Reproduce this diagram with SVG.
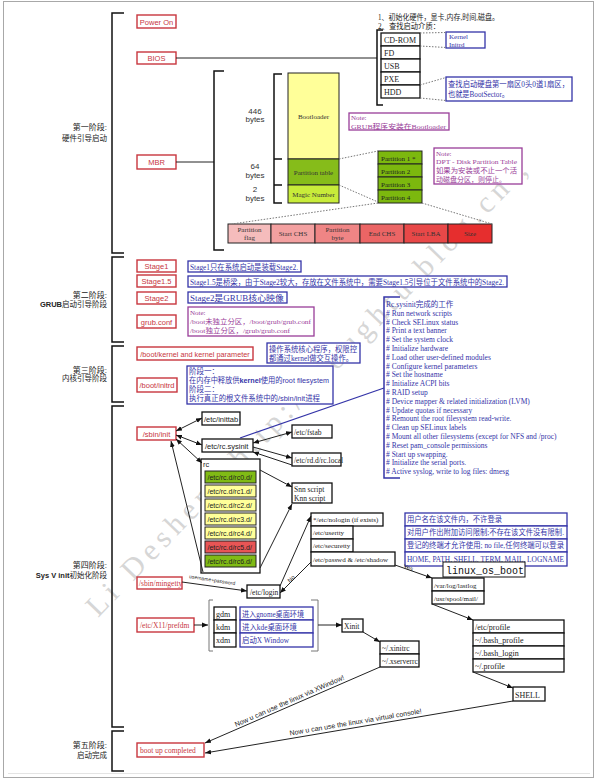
<svg xmlns="http://www.w3.org/2000/svg" width="597" height="781" viewBox="0 0 597 781">
<defs>
<marker id="ah" viewBox="0 0 10 10" refX="10" refY="5" markerWidth="6" markerHeight="6" orient="auto-start-reverse"><path d="M0,1 L10,5 L0,9 z" fill="#111"/></marker>
<style>
.frame{fill:none;stroke:#a8a8a8;stroke-width:1}
.br{fill:none;stroke:#111;stroke-width:1.5}
.rb{fill:#fff;stroke:#c8363e;stroke-width:1.4}
.rt{font-family:"Liberation Sans",Arial,sans-serif;font-size:7.5px;fill:#c8363e;text-anchor:middle}
.rts{font-family:"Liberation Serif","Noto Sans CJK SC",serif;font-size:7.5px;fill:#c8363e}
.bb{fill:#fff;stroke:#3434a8;stroke-width:1.3}
.bt{font-family:"Liberation Serif","Noto Sans CJK SC",serif;font-size:7.5px;fill:#3434a8}
.pb{fill:#fff;stroke:#993d99;stroke-width:1.3}
.pt{font-family:"Liberation Serif","Noto Sans CJK SC",serif;font-size:7px;fill:#993d99}
.kb{fill:#fff;stroke:#111;stroke-width:1.3}
.ks{font-family:"Liberation Serif","Noto Sans CJK SC",serif;font-size:7.5px;fill:#222}
.ka{font-family:"Liberation Sans",Arial,sans-serif;font-size:7.5px;fill:#222}
.lbl{font-family:"Liberation Serif","Noto Sans CJK SC",serif;font-size:7.5px;fill:#222;text-anchor:end}
.by{font-family:"Liberation Sans",Arial,sans-serif;font-size:8px;fill:#333;text-anchor:middle}
.cell{stroke:#222;stroke-width:1}
.ct{font-family:"Liberation Serif",serif;font-size:7px;fill:#333;text-anchor:middle}
.ln{fill:none;stroke:#222;stroke-width:1}
.dot{fill:none;stroke:#777;stroke-width:1;stroke-dasharray:1.5 1.5}
.wm{font-family:"Liberation Serif",serif;font-size:30px;fill:#d6d6d6}
.sm{font-family:"Liberation Sans",Arial,sans-serif;fill:#222}
</style>
</defs>
<rect class="frame" x="3.5" y="1.5" width="590" height="776"/>
<line x1="8" y1="773.5" x2="590" y2="773.5" stroke="#e4e4e4"/>

<g id="watermark">
<text class="wm" x="0" y="0" transform="translate(98,618) rotate(-46)" textLength="620" lengthAdjust="spacing">Li Desheng  http://Doughtu.blog.cn ,</text>
</g>

<g id="stages">
<path class="br" d="M124,13 H112 V253 H124 M124,257 H112 V342 H124 M124,346 H112 V402 H124 M124,406 H112 V727 H124 M124,731 H112 V771 H124"/>
<text class="lbl" x="107" y="130" style="font-size:8px">第一阶段:</text>
<text class="lbl" x="107" y="141">硬件引导启动</text>
<text class="lbl" x="107" y="298" style="font-size:8px">第二阶段:</text>
<text class="lbl" x="107" y="307"><tspan style="font-family:'Liberation Sans',sans-serif;font-weight:bold">GRUB</tspan>启动引导阶段</text>
<text class="lbl" x="107" y="373" style="font-size:8px">第三阶段:</text>
<text class="lbl" x="107" y="381">内核引导阶段</text>
<text class="lbl" x="107" y="568" style="font-size:8px">第四阶段:</text>
<text class="lbl" x="107" y="578"><tspan style="font-family:'Liberation Sans',sans-serif;font-weight:bold">Sys V init</tspan>初始化阶段</text>
<text class="lbl" x="107" y="748" style="font-size:8px">第五阶段:</text>
<text class="lbl" x="107" y="758">启动完成</text>
</g>

<g id="power-on"><rect class="rb" x="137" y="15" width="39" height="13"/><text class="rt" x="156.5" y="24.5">Power On</text></g>
<g id="bios"><rect class="rb" x="137" y="52" width="39" height="12"/><text class="rt" x="156.5" y="61">BIOS</text></g>
<g id="bios-notes">
<text class="ks" x="378" y="20" textLength="121" lengthAdjust="spacingAndGlyphs">1、初始化硬件，显卡,内存,时间,磁盘。</text>
<text class="ks" x="378" y="28.5" textLength="62" lengthAdjust="spacingAndGlyphs">2、查找启动介质：</text>
</g>
<g id="media">
<rect class="kb" x="381" y="33" width="39" height="13"/><text class="ks" x="384" y="42.5" style="font-size:8px">CD-ROM</text>
<rect class="kb" x="381" y="46" width="39" height="13"/><text class="ks" x="384" y="55.5" style="font-size:8px">FD</text>
<rect class="kb" x="381" y="59" width="39" height="13"/><text class="ks" x="384" y="68.5" style="font-size:8px">USB</text>
<rect class="kb" x="381" y="72" width="39" height="13"/><text class="ks" x="384" y="81.5" style="font-size:8px">PXE</text>
<rect class="kb" x="381" y="85" width="39" height="13"/><text class="ks" x="384" y="94.5" style="font-size:8px">HDD</text>
</g>
<g id="kernel-initrd"><rect class="bb" x="446" y="32" width="39" height="16"/><text class="bt" x="449" y="39" style="font-size:7px">Kernel</text><text class="bt" x="449" y="46.5" style="font-size:7px">Initrd</text></g>
<g id="hdd-note"><rect class="bb" x="446" y="77" width="126" height="24"/><text class="bt" x="448" y="87" textLength="121" lengthAdjust="spacingAndGlyphs">查找启动硬盘第一扇区0头0道1扇区，</text><text class="bt" x="448" y="96.5" textLength="61" lengthAdjust="spacingAndGlyphs">也就是BootSector。</text></g>

<g id="mbr"><rect class="rb" x="137" y="155" width="39" height="14"/><text class="rt" x="156.5" y="165">MBR</text></g>
<g id="mbr-layout">
<text class="by" x="255" y="113.5">446</text><text class="by" x="255" y="122">bytes</text>
<text class="by" x="255" y="169">64</text><text class="by" x="255" y="177.5">bytes</text>
<text class="by" x="255" y="192">2</text><text class="by" x="255" y="200.5">bytes</text>
<rect x="288" y="73" width="51" height="86" fill="#ffff99" class="cell"/>
<text class="ct" x="313.5" y="118.5">Bootloader</text>
<rect x="288" y="159" width="51" height="26" fill="#86bc1a" class="cell"/>
<text class="ct" x="313.5" y="174.5">Partition table</text>
<rect x="288" y="185" width="51" height="18" fill="#c8ec3a" class="cell"/>
<text class="ct" x="313.5" y="196.5">Magic Number</text>
</g>
<g id="grub-note"><rect class="pb" x="349" y="113" width="100" height="17"/><text class="pt" x="351" y="120">Note:</text><text class="pt" x="351" y="128.5" textLength="95" lengthAdjust="spacingAndGlyphs">GRUB程序安装在Bootloader</text></g>
<g id="partitions">
<rect x="378" y="151" width="44" height="13" fill="#7cb80e" class="cell"/><text class="ks" x="381" y="160.5" style="font-size:7px">Partition 1 *</text>
<rect x="378" y="164" width="44" height="13" fill="#7cb80e" class="cell"/><text class="ks" x="381" y="173.5" style="font-size:7px">Partition 2</text>
<rect x="378" y="177" width="44" height="13" fill="#7cb80e" class="cell"/><text class="ks" x="381" y="186.5" style="font-size:7px">Partition 3</text>
<rect x="378" y="190" width="44" height="13" fill="#7cb80e" class="cell"/><text class="ks" x="381" y="199.5" style="font-size:7px">Partition 4</text>
</g>
<g id="dpt-note"><rect class="pb" x="434" y="148" width="88" height="36"/>
<text class="pt" x="436" y="155.5">Note:</text><text class="pt" x="436" y="164" textLength="81" lengthAdjust="spacingAndGlyphs">DPT - Disk Partition Table</text><text class="pt" x="436" y="173" textLength="81" lengthAdjust="spacingAndGlyphs">如果为安装或不止一个活</text><text class="pt" x="436" y="181.5" textLength="70" lengthAdjust="spacingAndGlyphs">动磁盘分区，则停止。</text></g>
<g id="partition-entry">
<rect x="228" y="224" width="43" height="19" fill="#f5bcbc" class="cell"/><text class="ct" x="249.5" y="231.5">Partition</text><text class="ct" x="249.5" y="240">flag</text>
<rect x="271" y="224" width="44" height="19" fill="#f3a0a0" class="cell"/><text class="ct" x="293" y="236">Start CHS</text>
<rect x="315" y="224" width="45" height="19" fill="#ef8585" class="cell"/><text class="ct" x="337.5" y="231.5">Partition</text><text class="ct" x="337.5" y="240">byte</text>
<rect x="360" y="224" width="44" height="19" fill="#eb6565" class="cell"/><text class="ct" x="382" y="236">End CHS</text>
<rect x="404" y="224" width="44" height="19" fill="#e84848" class="cell"/><text class="ct" x="426" y="236">Start LBA</text>
<rect x="448" y="224" width="44" height="19" fill="#e62e2e" class="cell"/><text class="ct" x="470" y="236">Size</text>
</g>

<g id="stage1"><rect class="rb" x="137" y="260" width="39" height="12"/><text class="rt" x="156.5" y="269">Stage1</text></g>
<g id="stage1-desc"><rect class="bb" x="188" y="261" width="113" height="11"/><text class="bt" x="190" y="269.5" textLength="108" lengthAdjust="spacingAndGlyphs">Stage1只在系统启动是装载Stage2.</text></g>
<g id="stage15"><rect class="rb" x="137" y="275" width="39" height="12"/><text class="rt" x="156.5" y="284">Stage1.5</text></g>
<g id="stage15-desc"><rect class="bb" x="188" y="276" width="319" height="11"/><text class="bt" x="190" y="284.5" textLength="314" lengthAdjust="spacingAndGlyphs">Stage1.5是桥梁，由于Stage2较大，存放在文件系统中，需要Stage1.5引导位于文件系统中的Stage2.</text></g>
<g id="stage2"><rect class="rb" x="137" y="292" width="39" height="12"/><text class="rt" x="156.5" y="301">Stage2</text></g>
<g id="stage2-desc"><rect class="bb" x="188" y="292" width="99" height="11"/><text class="bt" x="190" y="300.5" textLength="94" lengthAdjust="spacingAndGlyphs">Stage2是GRUB核心映像</text></g>
<g id="grub-conf"><rect class="rb" x="137" y="315" width="39" height="13"/><text class="rt" x="156.5" y="324.5">grub.conf</text></g>
<g id="grub-conf-note"><rect class="pb" x="188" y="307" width="126" height="29"/><text class="pt" x="190" y="314.5">Note:</text><text class="pt" x="190" y="323.5" textLength="121" lengthAdjust="spacingAndGlyphs">/boot未独立分区，/boot/grub/grub.conf</text><text class="pt" x="190" y="332.5" textLength="100" lengthAdjust="spacingAndGlyphs">/boot独立分区，/grub/grub.conf</text></g>

<g id="kernel"><rect class="rb" x="137" y="347" width="116" height="13"/><text class="rt" x="195" y="356.5" style="font-size:7.3px">/boot/kernel and kernel parameter</text></g>
<g id="kernel-note"><rect class="bb" x="267" y="343" width="93" height="20"/><text class="bt" x="269" y="351.5" textLength="88" lengthAdjust="spacingAndGlyphs">操作系统核心程序，权限控</text><text class="bt" x="269" y="360.5" textLength="84" lengthAdjust="spacingAndGlyphs">都通过kernel做交互操作。</text></g>
<g id="initrd"><rect class="rb" x="137" y="378" width="40" height="14"/><text class="rt" x="157" y="388">/boot/initrd</text></g>
<g id="initrd-note"><rect class="bb" x="187" y="366" width="146" height="38"/>
<text class="bt" x="189" y="373.5">阶段一：</text>
<text class="bt" x="189" y="382.5" textLength="140" lengthAdjust="spacingAndGlyphs">在内存中释放供<tspan style="font-family:'Liberation Sans',sans-serif;font-weight:bold">kernel</tspan>使用的<tspan style="font-family:'Liberation Sans',sans-serif">root filesystem</tspan></text>
<text class="bt" x="189" y="391.5">阶段二：</text>
<text class="bt" x="189" y="400.5" textLength="131" lengthAdjust="spacingAndGlyphs">执行真正的根文件系统中的<tspan style="font-family:'Liberation Sans',sans-serif">/sbin/init</tspan>进程</text></g>

<g id="sbin-init"><rect class="rb" x="137" y="427" width="39" height="13"/><text class="rt" x="156.5" y="436.5">/sbin/init</text></g>
<g id="inittab"><rect class="kb" x="202" y="412" width="38" height="13"/><text class="ka" x="204" y="421.5">/etc/inittab</text></g>
<g id="rc-sysinit"><rect class="kb" x="202" y="439" width="51" height="13"/><text class="ka" x="205" y="448.5">/etc/rc.sysinit</text></g>
<g id="fstab"><rect class="kb" x="292" y="425" width="40" height="13"/><text class="ks" x="294" y="434.5">/etc/fstab</text></g>
<g id="rc-local"><rect class="kb" x="292" y="453" width="49" height="13"/><text class="ks" x="294" y="462.5">/etc/rd.d/rc.local</text></g>
<g id="sysinit-tasks">
<path d="M400,297 H384 V478 H400" fill="none" stroke="#3434a8" stroke-width="1.5"/>
<text class="bt" x="386" y="307">Rc.sysinit完成的工作</text>
<text class="bt" x="386" y="315.8"># Run network scripts</text>
<text class="bt" x="386" y="324.6"># Check SELinux status</text>
<text class="bt" x="386" y="333.4"># Print a text banner</text>
<text class="bt" x="386" y="342.2"># Set the system clock</text>
<text class="bt" x="386" y="351"># Initialize hardware</text>
<text class="bt" x="386" y="359.8"># Load other user-defined modules</text>
<text class="bt" x="386" y="368.6"># Configure kernel parameters</text>
<text class="bt" x="386" y="377.4"># Set the hostname</text>
<text class="bt" x="386" y="386.2"># Initialize ACPI bits</text>
<text class="bt" x="386" y="395"># RAID setup</text>
<text class="bt" x="386" y="403.8"># Device mapper &amp; related initialization (LVM)</text>
<text class="bt" x="386" y="412.6"># Update quotas if necessary</text>
<text class="bt" x="386" y="421.4"># Remount the root filesystem read-write.</text>
<text class="bt" x="386" y="430.2"># Clean up SELinux labels</text>
<text class="bt" x="386" y="439"># Mount all other filesystems (except for NFS and /proc)</text>
<text class="bt" x="386" y="447.8"># Reset pam_console permissions</text>
<text class="bt" x="386" y="456.6"># Start up swapping.</text>
<text class="bt" x="386" y="465.4"># Initialize the serial ports.</text>
<text class="bt" x="386" y="474.2"># Active syslog, write to log files: dmesg</text>
</g>
<g id="rc">
<rect class="kb" x="201" y="459" width="59" height="114"/><text class="ka" x="203" y="467">rc</text>
<rect x="205" y="471" width="51" height="12" fill="#80bb15" class="cell"/><text class="ka" x="207.5" y="480" style="font-size:7px">/etc/rc.d/rc0.d/</text>
<rect x="205" y="485" width="51" height="12" fill="#ffff99" class="cell"/><text class="ka" x="207.5" y="494" style="font-size:7px">/etc/rc.d/rc1.d/</text>
<rect x="205" y="499" width="51" height="12" fill="#ffff99" class="cell"/><text class="ka" x="207.5" y="508" style="font-size:7px">/etc/rc.d/rc2.d/</text>
<rect x="205" y="513" width="51" height="12" fill="#ffff99" class="cell"/><text class="ka" x="207.5" y="522" style="font-size:7px">/etc/rc.d/rc3.d/</text>
<rect x="205" y="527" width="51" height="12" fill="#ffff99" class="cell"/><text class="ka" x="207.5" y="536" style="font-size:7px">/etc/rc.d/rc4.d/</text>
<rect x="205" y="541" width="51" height="12" fill="#e85555" class="cell"/><text class="ka" x="207.5" y="550" style="font-size:7px">/etc/rc.d/rc5.d/</text>
<rect x="205" y="555" width="51" height="12" fill="#80bb15" class="cell"/><text class="ka" x="207.5" y="564" style="font-size:7px">/etc/rc.d/rc6.d/</text>
</g>
<g id="snn"><rect class="kb" x="292" y="483" width="40" height="20"/><text class="ks" x="294" y="491.5">Snn script</text><text class="ks" x="294" y="500.5">Knn script</text></g>
<g id="login-checks">
<rect class="kb" x="311" y="513" width="72" height="13"/><text class="ks" x="313" y="522" style="font-size:7px">*/etc/nologin (if exists)</text>
<rect class="kb" x="311" y="526" width="42" height="13"/><text class="ks" x="313" y="535" style="font-size:7px">/etc/usertty</text>
<rect class="kb" x="311" y="539" width="42" height="13"/><text class="ks" x="313" y="548" style="font-size:7px">/etc/securetty</text>
<rect class="kb" x="311" y="552" width="84" height="14"/><text class="ks" x="313" y="561.5" style="font-size:7px">/etc/passwd &amp; /etc/shadow</text>
</g>
<g id="login-notes">
<rect class="bb" x="405" y="513" width="162" height="13"/><text class="bt" x="407" y="522" textLength="95" lengthAdjust="spacingAndGlyphs">用户名在该文件内，不许登录</text>
<rect class="bb" x="405" y="526" width="162" height="13"/><text class="bt" x="407" y="535" textLength="157" lengthAdjust="spacingAndGlyphs">对用户作出附加访问限制;不存在该文件没有限制.</text>
<rect class="bb" x="405" y="539" width="162" height="13"/><text class="bt" x="407" y="548" textLength="157" lengthAdjust="spacingAndGlyphs">登记的终端才允许使用; no file,任何终端可以登录</text>
<rect class="bb" x="405" y="552" width="162" height="14"/><text class="bt" x="407" y="561.5" textLength="157" lengthAdjust="spacingAndGlyphs">HOME, PATH, SHELL, TERM, MAIL, LOGNAME</text>
</g>
<g id="lastlog">
<rect class="kb" x="432" y="578" width="52" height="13"/><text class="ks" x="434" y="587.5" style="font-size:7px">/var/log/lastlog</text>
<rect class="kb" x="432" y="591" width="52" height="13"/><text class="ks" x="434" y="600.5" style="font-size:7px">/usr/spool/mail/</text>
</g>
<g id="linux-os-boot"><rect x="443" y="562" width="82" height="15" fill="#fff" stroke="#111" stroke-width="1"/><text x="446" y="573.5" style="font-family:'Liberation Mono','DejaVu Sans Mono',monospace;font-size:10px;fill:#111">linux_os_boot</text></g>
<g id="etc-login"><rect class="kb" x="247" y="585" width="33" height="13"/><text class="ks" x="250" y="594.5">/etc/login</text></g>
<g id="mingetty"><rect class="rb" x="137" y="577" width="45" height="12"/><text class="rts" x="139" y="586">/sbin/mingetty</text></g>

<g id="prefdm"><rect class="rb" x="137" y="618" width="57" height="14"/><text class="rts" x="140" y="628">/etc/X11/prefdm</text></g>
<g id="dm">
<path class="br" d="M213,600 H209 V651 H213" style="stroke:#777;stroke-width:1"/>
<rect class="kb" x="214" y="607" width="22" height="13"/><text class="ks" x="216" y="616.5" style="font-size:8px">gdm</text>
<rect class="kb" x="214" y="620" width="22" height="13"/><text class="ks" x="216" y="629.5" style="font-size:8px">kdm</text>
<rect class="kb" x="214" y="633" width="22" height="14"/><text class="ks" x="216" y="643" style="font-size:8px">xdm</text>
<rect class="bb" x="240" y="607" width="73" height="13"/><text class="bt" x="242" y="616.5" textLength="62" lengthAdjust="spacingAndGlyphs">进入gnome桌面环境</text>
<rect class="bb" x="240" y="620" width="73" height="13"/><text class="bt" x="242" y="629.5" textLength="55" lengthAdjust="spacingAndGlyphs">进入kde桌面环境</text>
<rect class="bb" x="240" y="633" width="73" height="14"/><text class="bt" x="242" y="643" textLength="47" lengthAdjust="spacingAndGlyphs">启动X Window</text>
<path class="br" d="M311,600 H318 V651 H311" style="stroke:#777;stroke-width:1"/>
</g>
<g id="xinit"><rect class="kb" x="342" y="619" width="21" height="13"/><text class="ks" x="344" y="628.5">Xinit</text></g>
<g id="xinitrc">
<rect class="kb" x="380" y="641" width="39" height="13"/><text class="ks" x="382" y="650.5">~/.xinitrc</text>
<rect class="kb" x="380" y="654" width="39" height="13"/><text class="ks" x="382" y="663.5">~/.xserverrc</text>
</g>
<g id="profile">
<rect class="kb" x="473" y="620" width="91" height="13"/><text class="ks" x="475" y="629.5" style="font-size:8px">/etc/profile</text>
<rect class="kb" x="473" y="633" width="91" height="13"/><text class="ks" x="475" y="642.5" style="font-size:8px">~/.bash_profile</text>
<rect class="kb" x="473" y="646" width="91" height="13"/><text class="ks" x="475" y="655.5" style="font-size:8px">~/.bash_login</text>
<rect class="kb" x="473" y="659" width="91" height="13"/><text class="ks" x="475" y="668.5" style="font-size:8px">~/.profile</text>
</g>
<g id="shell"><rect class="kb" x="513" y="687" width="32" height="14"/><text class="ks" x="515" y="697.5" style="font-size:8px">SHELL</text></g>
<g id="boot-completed"><rect class="rb" x="137" y="743" width="67" height="14"/><text class="rts" x="140" y="753">boot up completed</text></g>

<g id="connectors">
<path class="ln" d="M176,58 H377" stroke-width="1.3"/>
<path class="br" d="M383,30 H377 V105 H383"/>
<path class="dot" d="M420,33 L446,32.5 M420,46 L446,47.5 M420,85 L446,77.5 M420,98 L446,100.5"/>
<path class="ln" d="M176,162 H214" stroke-width="1.3"/>
<path class="br" d="M224,71 H214 V250 H224"/>
<path class="br" d="M282,74 H274 V203 H282 M274,159 H282 M274,185 H282"/>
<path class="dot" d="M339,159 L378,151 M339,185 L378,202 M378,203 L232,224 M422,203 L492,224"/>
<path d="M240,438 L384,388" stroke="#3434a8" stroke-width="1.2" fill="none"/>
<g class="ln" marker-end="url(#ah)" marker-start="url(#ah)">
<path d="M176,431 L202,418"/>
<path d="M176,435 L202,445"/>
<path d="M176,439 L202,463"/>
<path d="M253,443 L292,432"/>
</g>
<g class="ln" marker-end="url(#ah)">
<path d="M203,572 L171,441"/>
<path d="M253,447 L292,458"/>
<path d="M292,465 L253,452"/>
<path d="M260,470 L292,487"/>
<path d="M260,568 L292,504"/>
<path d="M280,586 L311,516"/>
<path d="M311,562 L280,593"/>
<path d="M182,582 L247,591"/>
<path d="M395,565 L432,578"/>
<path d="M194,625 H208"/>
<path d="M318,625 H342"/>
<path d="M363,632 L380,642"/>
<path d="M432,604 L473,620"/>
<path d="M473,672 L513,688"/>
<path d="M380,667 L205,743"/>
<path d="M513,701 L205,753"/>
</g>
<text class="sm" style="font-size:5px" transform="translate(189,578) rotate(9)">username+password</text>
<text class="sm" style="font-size:6px" transform="translate(290,583) rotate(-45)">No</text>
<text class="sm" style="font-size:6px" transform="translate(403,568) rotate(19)">Yes</text>
<text class="sm" style="font-size:7px" transform="translate(236,727) rotate(-23.7)">Now u can use the linux via XWindow!</text>
<text class="sm" style="font-size:7px" transform="translate(290,735.5) rotate(-9.6)">Now u can use the linux via virtual console!</text>
</g>
</svg>
